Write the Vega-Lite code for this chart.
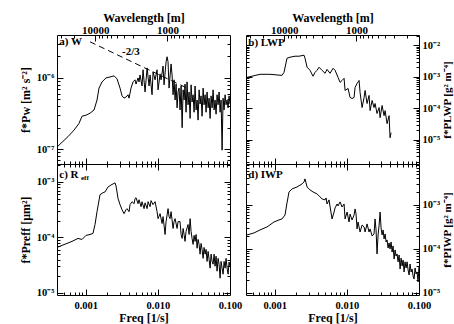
{
"$schema":"https://vega.github.io/schema/vega-lite/v6.json",
"background":"white",
"padding":{"left":18,"top":10,"right":0,"bottom":0},
"datasets":{
"a":[{"f":0.0004,"v":1.07e-7},{"f":0.000469,"v":1.25e-7},{"f":0.000568,"v":1.5e-7},{"f":0.000688,"v":1.85e-7},{"f":0.000807,"v":2.3e-7},{"f":0.000889,"v":2.9e-7},{"f":0.00101,"v":3.0e-7},{"f":0.001147,"v":3.2e-7},{"f":0.001304,"v":3.55e-7},{"f":0.001435,"v":4.9e-7},{"f":0.001529,"v":7.2e-7},{"f":0.001683,"v":8.8e-7},{"f":0.001912,"v":1.0e-6},{"f":0.002173,"v":1.03e-6},{"f":0.00247,"v":1.07e-6},{"f":0.002718,"v":9.7e-7},{"f":0.002991,"v":7.2e-7},{"f":0.003188,"v":5.6e-7},{"f":0.003398,"v":5.2e-7},{"f":0.003623,"v":5.4e-7},{"f":0.003862,"v":5.8e-7},{"f":0.003987,"v":5.2e-7},{"f":0.00425,"v":7.2e-7},{"f":0.00453,"v":8.8e-7},{"f":0.004828,"v":9.4e-7},{"f":0.004985,"v":8.2e-7},{"f":0.005314,"v":1.0e-6},{"f":0.005486,"v":8.8e-7},{"f":0.00566,"v":1.1e-6},{"f":0.006037,"v":7.7e-7},{"f":0.006232,"v":1.3e-6},{"f":0.00665,"v":6.35e-7},{"f":0.00709,"v":1.38e-6},{"f":0.00755,"v":7.7e-7},{"f":0.0078,"v":1.1e-6},{"f":0.00831,"v":5.8e-7},{"f":0.00858,"v":1.22e-6},{"f":0.00915,"v":9.4e-7},{"f":0.00975,"v":1.3e-6},{"f":0.01007,"v":6.8e-7},{"f":0.01073,"v":1.14e-6},{"f":0.01108,"v":9.4e-7},{"f":0.01181,"v":1.47e-6},{"f":0.01219,"v":8.0e-7},{"f":0.013,"v":1.68e-6},{"f":0.01342,"v":1.98e-6},{"f":0.01385,"v":1.68e-6},{"f":0.0143,"v":7.2e-7},{"f":0.01525,"v":1.57e-6},{"f":0.01574,"v":1.1e-6},{"f":0.01625,"v":5.8e-7},{"f":0.01678,"v":9.4e-7},{"f":0.01733,"v":4.9e-7},{"f":0.01789,"v":8.2e-7},{"f":0.01847,"v":3.8e-7},{"f":0.01906,"v":6.35e-7},{"f":0.01968,"v":7.2e-7},{"f":0.0203,"v":3.55e-7},{"f":0.021,"v":7.7e-7},{"f":0.0217,"v":2.0e-7},{"f":0.0224,"v":6.8e-7},{"f":0.0231,"v":4.9e-7},{"f":0.0238,"v":8.2e-7},{"f":0.0246,"v":3.3e-7},{"f":0.0254,"v":8.8e-7},{"f":0.0262,"v":4.2e-7},{"f":0.0271,"v":6.35e-7},{"f":0.028,"v":2.7e-7},{"f":0.0289,"v":8.0e-7},{"f":0.0298,"v":4.6e-7},{"f":0.0308,"v":5.8e-7},{"f":0.0318,"v":3.3e-7},{"f":0.0328,"v":7.7e-7},{"f":0.0339,"v":3.55e-7},{"f":0.035,"v":4.9e-7},{"f":0.0361,"v":2.56e-7},{"f":0.0373,"v":6.8e-7},{"f":0.0385,"v":4.3e-7},{"f":0.0397,"v":5.6e-7},{"f":0.041,"v":2.9e-7},{"f":0.0424,"v":7.2e-7},{"f":0.0437,"v":4.2e-7},{"f":0.0452,"v":5.8e-7},{"f":0.0466,"v":3.3e-7},{"f":0.0481,"v":6.35e-7},{"f":0.0497,"v":3.8e-7},{"f":0.0513,"v":5.2e-7},{"f":0.053,"v":2.7e-7},{"f":0.0547,"v":5.6e-7},{"f":0.0565,"v":3.8e-7},{"f":0.0583,"v":6.8e-7},{"f":0.0602,"v":3.55e-7},{"f":0.0621,"v":4.9e-7},{"f":0.0641,"v":3.1e-7},{"f":0.0662,"v":5.8e-7},{"f":0.0684,"v":4.2e-7},{"f":0.0706,"v":6.35e-7},{"f":0.0729,"v":3.3e-7},{"f":0.0752,"v":4.9e-7},{"f":0.0777,"v":9.7e-8},{"f":0.0802,"v":5.2e-7},{"f":0.0828,"v":3.55e-7},{"f":0.0855,"v":5.8e-7},{"f":0.0882,"v":4.2e-7},{"f":0.0911,"v":4.9e-7},{"f":0.0941,"v":3.8e-7},{"f":0.0971,"v":5.6e-7},{"f":0.1,"v":4.3e-7}],
"b":[{"f":0.000413,"v":9.5e-4},{"f":0.000625,"v":1.19e-3},{"f":0.000861,"v":1.19e-3},{"f":0.00126,"v":1.10e-3},{"f":0.001346,"v":1.37e-3},{"f":0.00148,"v":3.85e-3},{"f":0.00163,"v":4.14e-3},{"f":0.00191,"v":4.46e-3},{"f":0.00217,"v":4.46e-3},{"f":0.00255,"v":4.8e-3},{"f":0.00263,"v":3.85e-3},{"f":0.00281,"v":1.99e-3},{"f":0.00309,"v":1.59e-3},{"f":0.0034,"v":1.03e-3},{"f":0.00362,"v":1.37e-3},{"f":0.00386,"v":1.59e-3},{"f":0.00412,"v":1.99e-3},{"f":0.00453,"v":1.59e-3},{"f":0.00499,"v":1.28e-3},{"f":0.00531,"v":1.71e-3},{"f":0.00584,"v":1.28e-3},{"f":0.00645,"v":1.85e-3},{"f":0.00687,"v":1.59e-3},{"f":0.00755,"v":9.5e-4},{"f":0.00806,"v":6.6e-4},{"f":0.00858,"v":7.6e-4},{"f":0.00915,"v":8.85e-4},{"f":0.00945,"v":3.66e-4},{"f":0.0104,"v":4.24e-4},{"f":0.01108,"v":2.19e-4},{"f":0.01181,"v":2.03e-4},{"f":0.01259,"v":2.19e-4},{"f":0.013,"v":4.56e-4},{"f":0.01385,"v":6.1e-4},{"f":0.01477,"v":7.6e-4},{"f":0.01525,"v":3.16e-4},{"f":0.01625,"v":1.05e-4},{"f":0.01733,"v":2.19e-4},{"f":0.01789,"v":3.66e-4},{"f":0.01906,"v":1.41e-4},{"f":0.0203,"v":2.54e-4},{"f":0.021,"v":8.4e-5},{"f":0.0224,"v":1.76e-4},{"f":0.0238,"v":1.05e-4},{"f":0.0246,"v":1.41e-4},{"f":0.0262,"v":6.8e-5},{"f":0.028,"v":1.05e-4},{"f":0.0289,"v":5.0e-5},{"f":0.0308,"v":1.22e-4},{"f":0.0328,"v":5.8e-5},{"f":0.0339,"v":8.4e-5},{"f":0.0361,"v":3.24e-5},{"f":0.0385,"v":5.8e-5},{"f":0.0397,"v":1.16e-5},{"f":0.041,"v":1.67e-5}],
"c":[{"f":0.0004,"v":6.6e-5},{"f":0.000469,"v":7.2e-5},{"f":0.00055,"v":7.8e-5},{"f":0.000646,"v":8.5e-5},{"f":0.000782,"v":9.6e-5},{"f":0.000889,"v":9.2e-5},{"f":0.00101,"v":1.09e-4},{"f":0.001147,"v":1.13e-4},{"f":0.00126,"v":1.18e-4},{"f":0.001346,"v":1.71e-4},{"f":0.001435,"v":2.91e-4},{"f":0.001579,"v":5.9e-4},{"f":0.00174,"v":6.4e-4},{"f":0.001853,"v":6.6e-4},{"f":0.00204,"v":8.1e-4},{"f":0.002244,"v":8.8e-4},{"f":0.002393,"v":9.2e-4},{"f":0.002549,"v":9.6e-4},{"f":0.00263,"v":8.5e-4},{"f":0.00281,"v":5.0e-4},{"f":0.002991,"v":3.9e-4},{"f":0.003188,"v":3.16e-4},{"f":0.003398,"v":2.68e-4},{"f":0.003623,"v":3.16e-4},{"f":0.00374,"v":3.3e-4},{"f":0.003987,"v":2.91e-4},{"f":0.004115,"v":3.9e-4},{"f":0.00439,"v":4.4e-4},{"f":0.00468,"v":4.05e-4},{"f":0.004828,"v":5.0e-4},{"f":0.004985,"v":5.2e-4},{"f":0.005314,"v":4.05e-4},{"f":0.005486,"v":4.77e-4},{"f":0.00585,"v":3.58e-4},{"f":0.006037,"v":4.4e-4},{"f":0.00644,"v":3.3e-4},{"f":0.00665,"v":4.2e-4},{"f":0.00709,"v":3.3e-4},{"f":0.00732,"v":4.4e-4},{"f":0.0078,"v":3.58e-4},{"f":0.00805,"v":4.6e-4},{"f":0.00858,"v":3.9e-4},{"f":0.00915,"v":4.4e-4},{"f":0.00975,"v":2.91e-4},{"f":0.01007,"v":2.18e-4},{"f":0.01073,"v":2.68e-4},{"f":0.01144,"v":1.78e-4},{"f":0.01181,"v":2.37e-4},{"f":0.01259,"v":1.13e-4},{"f":0.013,"v":1.93e-4},{"f":0.01385,"v":3.3e-4},{"f":0.0143,"v":2.37e-4},{"f":0.01477,"v":2.18e-4},{"f":0.01525,"v":2.91e-4},{"f":0.01625,"v":1.45e-4},{"f":0.01678,"v":1.93e-4},{"f":0.01733,"v":2.18e-4},{"f":0.01847,"v":1.45e-4},{"f":0.01906,"v":1.93e-4},{"f":0.0203,"v":1.93e-4},{"f":0.021,"v":1.13e-4},{"f":0.0217,"v":9.6e-5},{"f":0.0224,"v":1.45e-4},{"f":0.0231,"v":1.13e-4},{"f":0.0238,"v":8.5e-5},{"f":0.0246,"v":1.28e-4},{"f":0.0262,"v":1.71e-4},{"f":0.0271,"v":1.13e-4},{"f":0.028,"v":2.18e-4},{"f":0.0289,"v":1.28e-4},{"f":0.0298,"v":9.6e-5},{"f":0.0308,"v":7.5e-5},{"f":0.0318,"v":1.09e-4},{"f":0.0328,"v":8.5e-5},{"f":0.0339,"v":1.13e-4},{"f":0.035,"v":6.4e-5},{"f":0.0361,"v":9.2e-5},{"f":0.0373,"v":7.5e-5},{"f":0.0385,"v":5.0e-5},{"f":0.0397,"v":7.8e-5},{"f":0.041,"v":6.1e-5},{"f":0.0424,"v":4.2e-5},{"f":0.0437,"v":6.6e-5},{"f":0.0452,"v":5.0e-5},{"f":0.0466,"v":6.1e-5},{"f":0.0481,"v":3.7e-5},{"f":0.0497,"v":5.6e-5},{"f":0.0513,"v":4.05e-5},{"f":0.053,"v":2.8e-5},{"f":0.0547,"v":5.0e-5},{"f":0.0565,"v":3.7e-5},{"f":0.0583,"v":3.3e-5},{"f":0.0602,"v":5.0e-5},{"f":0.0621,"v":3.03e-5},{"f":0.0641,"v":4.6e-5},{"f":0.0662,"v":2.47e-5},{"f":0.0684,"v":4.2e-5},{"f":0.0706,"v":3.3e-5},{"f":0.0729,"v":1.85e-5},{"f":0.0752,"v":3.7e-5},{"f":0.0777,"v":2.8e-5},{"f":0.0802,"v":2.18e-5},{"f":0.0828,"v":3.7e-5},{"f":0.0855,"v":2.8e-5},{"f":0.0882,"v":4.2e-5},{"f":0.0911,"v":2.8e-5},{"f":0.0941,"v":2.18e-5},{"f":0.0971,"v":3.6e-5},{"f":0.1,"v":3.03e-5}],
"d":[{"f":0.000413,"v":2.08e-4},{"f":0.000516,"v":2.31e-4},{"f":0.000625,"v":2.7e-4},{"f":0.000782,"v":3.16e-4},{"f":0.000978,"v":4.1e-4},{"f":0.001147,"v":4.56e-4},{"f":0.00126,"v":4.8e-4},{"f":0.00139,"v":5.9e-4},{"f":0.00148,"v":1.11e-3},{"f":0.001579,"v":1.97e-3},{"f":0.00174,"v":2.31e-3},{"f":0.00204,"v":2.56e-3},{"f":0.002393,"v":3.0e-3},{"f":0.002549,"v":3.33e-3},{"f":0.00263,"v":3.9e-3},{"f":0.00281,"v":2.56e-3},{"f":0.00309,"v":2.19e-3},{"f":0.0034,"v":1.97e-3},{"f":0.00386,"v":1.78e-3},{"f":0.00425,"v":1.52e-3},{"f":0.00453,"v":1.37e-3},{"f":0.004985,"v":1.30e-3},{"f":0.00515,"v":1.44e-3},{"f":0.005314,"v":1.05e-3},{"f":0.00566,"v":1.30e-3},{"f":0.006232,"v":4.8e-4},{"f":0.00665,"v":6.9e-4},{"f":0.00687,"v":8.55e-4},{"f":0.00732,"v":1.05e-3},{"f":0.00755,"v":9.5e-4},{"f":0.00805,"v":1.17e-3},{"f":0.00858,"v":9.0e-4},{"f":0.00915,"v":1.05e-3},{"f":0.00945,"v":4.8e-4},{"f":0.01007,"v":6.9e-4},{"f":0.01073,"v":4.1e-4},{"f":0.01108,"v":6.2e-4},{"f":0.01181,"v":4.56e-4},{"f":0.01259,"v":5.9e-4},{"f":0.013,"v":8.1e-4},{"f":0.01342,"v":6.2e-4},{"f":0.01385,"v":2.85e-4},{"f":0.0143,"v":4.1e-4},{"f":0.01525,"v":2.43e-4},{"f":0.01625,"v":3.5e-4},{"f":0.01733,"v":3.16e-4},{"f":0.01789,"v":2.43e-4},{"f":0.01906,"v":3.7e-4},{"f":0.0203,"v":2.43e-4},{"f":0.021,"v":2.85e-4},{"f":0.0224,"v":1.97e-4},{"f":0.0238,"v":2.19e-4},{"f":0.0246,"v":4.8e-4},{"f":0.0254,"v":2.7e-4},{"f":0.0262,"v":7.7e-5},{"f":0.0271,"v":2.08e-4},{"f":0.028,"v":3.5e-4},{"f":0.0289,"v":6.9e-4},{"f":0.0298,"v":3.0e-4},{"f":0.0308,"v":2.08e-4},{"f":0.0318,"v":2.7e-4},{"f":0.0328,"v":1.69e-4},{"f":0.0339,"v":2.19e-4},{"f":0.035,"v":1.44e-4},{"f":0.0361,"v":1.6e-4},{"f":0.0373,"v":1.05e-4},{"f":0.0385,"v":1.37e-4},{"f":0.0397,"v":1.0e-4},{"f":0.041,"v":1.44e-4},{"f":0.0424,"v":8.5e-5},{"f":0.0437,"v":1.17e-4},{"f":0.0452,"v":5.9e-5},{"f":0.0466,"v":9.5e-5},{"f":0.0481,"v":6.9e-5},{"f":0.0497,"v":7.7e-5},{"f":0.0513,"v":5.1e-5},{"f":0.053,"v":7.3e-5},{"f":0.0547,"v":3.5e-5},{"f":0.0565,"v":6.2e-5},{"f":0.0583,"v":4.1e-5},{"f":0.0602,"v":5.6e-5},{"f":0.0621,"v":3.0e-5},{"f":0.0641,"v":5.1e-5},{"f":0.0662,"v":3.7e-5},{"f":0.0684,"v":5.1e-5},{"f":0.0706,"v":3.33e-5},{"f":0.0729,"v":2.56e-5},{"f":0.0752,"v":4.56e-5},{"f":0.0777,"v":3.0e-5},{"f":0.0802,"v":3.5e-5},{"f":0.0828,"v":2.43e-5},{"f":0.0855,"v":2.08e-5},{"f":0.0882,"v":3.7e-5},{"f":0.0911,"v":2.7e-5},{"f":0.0941,"v":3.0e-5},{"f":0.0971,"v":1.78e-5},{"f":0.1,"v":4.1e-5}]
},
"columns":2,
"spacing":{"row":0,"column":16},
"bounds":"flush",
"concat":[
{"width":173,"height":129,"data":{"name":"a"},"resolve":{"axis":{"x":"independent","y":"independent"}},
"layer":[
{"mark":{"type":"line","color":"black","strokeWidth":1},
"encoding":{"x":{"field":"f","type":"quantitative","scale":{"type":"log","domain":[0.0004,0.1],"nice":false},"axis":{"orient":"bottom","values":[0.0005,0.0006,0.0007,0.0008,0.0009,0.001,0.002,0.003,0.004,0.005,0.006,0.007,0.008,0.009,0.01,0.02,0.03,0.04,0.05,0.06,0.07,0.08,0.09],"labels":false,"title":null,"tickSize":{"condition":{"test":"abs(log(datum.value)/LN10-round(log(datum.value)/LN10))<0.001","value":-6},"value":-3}}},
"y":{"field":"v","type":"quantitative","scale":{"type":"log","domain":[6.2e-8,4e-6],"nice":false},"axis":{"orient":"left","values":[7e-8,8e-8,9e-8,1e-7,2e-7,3e-7,4e-7,5e-7,6e-7,7e-7,8e-7,9e-7,1e-6,2e-6,3e-6],"labels":false,"title":null,"tickSize":{"condition":{"test":"abs(log(datum.value)/LN10-round(log(datum.value)/LN10))<0.001","value":-6},"value":-3}}}}},
{"mark":{"type":"line","strokeOpacity":0},
"encoding":{"x":{"field":"f","type":"quantitative","scale":{"type":"log","domain":[0.0004,0.1],"nice":false},"axis":{"orient":"top","values":[0.000453,0.00068,0.00136,0.001511,0.0017,0.001943,0.002267,0.00272,0.0034,0.004533,0.0068,0.0136,0.01511,0.017,0.01943,0.02267,0.0272,0.034,0.04533,0.068],"labels":false,"title":null,"tickSize":{"condition":{"test":"datum.value==0.00136||datum.value==0.0136","value":-6},"value":-3}}},
"y":{"field":"v","type":"quantitative","scale":{"type":"log","domain":[6.2e-8,4e-6],"nice":false},"axis":{"orient":"right","values":[7e-8,8e-8,9e-8,1e-7,2e-7,3e-7,4e-7,5e-7,6e-7,7e-7,8e-7,9e-7,1e-6,2e-6,3e-6],"labels":false,"title":null,"tickSize":{"condition":{"test":"abs(log(datum.value)/LN10-round(log(datum.value)/LN10))<0.001","value":-6},"value":-3}}}}},
{"mark":{"type":"line","strokeOpacity":0},
"encoding":{"x":{"field":"f","type":"quantitative","scale":{"type":"log","domain":[0.0004,0.1],"nice":false},"axis":{"orient":"top","values":[0.00136,0.0136],"ticks":false,"tickSize":0,"labelExpr":"datum.value<0.005?'10000':'1000'","title":"Wavelength [m]","labelPadding":0,"titlePadding":0,"labelFontSize":11}},
"y":{"field":"v","type":"quantitative","scale":{"type":"log","domain":[6.2e-8,4e-6],"nice":false},"axis":{"orient":"left","values":[1e-7,1e-6],"ticks":false,"tickSize":0,"labelPadding":3,"labelExpr":"'10⁻'+['⁰','¹','²','³','⁴','⁵','⁶','⁷','⁸','⁹'][round(-log(datum.value)/LN10)]","title":"f*Pw [m² s⁻²]","titlePadding":4}}}},
{"data":{"values":[{"f":0.001147,"v":3.21e-6},{"f":0.0254,"v":7.2e-7}]},"mark":{"type":"line","color":"black","strokeWidth":1,"strokeDash":[6,4]},
"encoding":{"x":{"field":"f","type":"quantitative","scale":{"type":"log","domain":[0.0004,0.1],"nice":false},"axis":null},"y":{"field":"v","type":"quantitative","scale":{"type":"log","domain":[6.2e-8,4e-6],"nice":false},"axis":null}}},
{"data":{"values":[{"f":0.00043,"v":3.21e-6,"t":"a) W"},{"f":0.00319,"v":2.32e-6,"t":"-2/3"}]},"mark":{"type":"text","align":"left","baseline":"middle","font":"Liberation Serif","fontWeight":"bold","fontSize":11,"color":"black"},
"encoding":{"x":{"field":"f","type":"quantitative","scale":{"type":"log","domain":[0.0004,0.1],"nice":false},"axis":null},"y":{"field":"v","type":"quantitative","scale":{"type":"log","domain":[6.2e-8,4e-6],"nice":false},"axis":null},"text":{"field":"t"}}}
]},
{"width":173,"height":129,"data":{"name":"b"},"resolve":{"axis":{"x":"independent","y":"independent"}},
"layer":[
{"mark":{"type":"line","color":"black","strokeWidth":1},
"encoding":{"x":{"field":"f","type":"quantitative","scale":{"type":"log","domain":[0.0004,0.1],"nice":false},"axis":{"orient":"bottom","values":[0.0005,0.0006,0.0007,0.0008,0.0009,0.001,0.002,0.003,0.004,0.005,0.006,0.007,0.008,0.009,0.01,0.02,0.03,0.04,0.05,0.06,0.07,0.08,0.09],"labels":false,"title":null,"tickSize":{"condition":{"test":"abs(log(datum.value)/LN10-round(log(datum.value)/LN10))<0.001","value":-6},"value":-3}}},
"y":{"field":"v","type":"quantitative","scale":{"type":"log","domain":[1.7e-6,0.021],"nice":false},"axis":{"orient":"left","values":[2e-6,3e-6,4e-6,5e-6,6e-6,7e-6,8e-6,9e-6,1e-5,2e-5,3e-5,4e-5,5e-5,6e-5,7e-5,8e-5,9e-5,1e-4,2e-4,3e-4,4e-4,5e-4,6e-4,7e-4,8e-4,9e-4,1e-3,2e-3,3e-3,4e-3,5e-3,6e-3,7e-3,8e-3,9e-3,1e-2,2e-2],"labels":false,"title":null,"tickSize":{"condition":{"test":"abs(log(datum.value)/LN10-round(log(datum.value)/LN10))<0.001","value":-6},"value":-3}}}}},
{"mark":{"type":"line","strokeOpacity":0},
"encoding":{"x":{"field":"f","type":"quantitative","scale":{"type":"log","domain":[0.0004,0.1],"nice":false},"axis":{"orient":"top","values":[0.000453,0.00068,0.00136,0.001511,0.0017,0.001943,0.002267,0.00272,0.0034,0.004533,0.0068,0.0136,0.01511,0.017,0.01943,0.02267,0.0272,0.034,0.04533,0.068],"labels":false,"title":null,"tickSize":{"condition":{"test":"datum.value==0.00136||datum.value==0.0136","value":-6},"value":-3}}},
"y":{"field":"v","type":"quantitative","scale":{"type":"log","domain":[1.7e-6,0.021],"nice":false},"axis":{"orient":"right","values":[2e-6,3e-6,4e-6,5e-6,6e-6,7e-6,8e-6,9e-6,1e-5,2e-5,3e-5,4e-5,5e-5,6e-5,7e-5,8e-5,9e-5,1e-4,2e-4,3e-4,4e-4,5e-4,6e-4,7e-4,8e-4,9e-4,1e-3,2e-3,3e-3,4e-3,5e-3,6e-3,7e-3,8e-3,9e-3,1e-2,2e-2],"labels":false,"title":null,"tickSize":{"condition":{"test":"abs(log(datum.value)/LN10-round(log(datum.value)/LN10))<0.001","value":-6},"value":-3}}}}},
{"mark":{"type":"line","strokeOpacity":0},
"encoding":{"x":{"field":"f","type":"quantitative","scale":{"type":"log","domain":[0.0004,0.1],"nice":false},"axis":{"orient":"top","values":[0.00136,0.0136],"ticks":false,"tickSize":0,"labelExpr":"datum.value<0.005?'10000':'1000'","title":"Wavelength [m]","labelPadding":0,"titlePadding":0,"labelFontSize":11}},
"y":{"field":"v","type":"quantitative","scale":{"type":"log","domain":[1.7e-6,0.021],"nice":false},"axis":{"orient":"right","values":[1e-5,1e-4,1e-3,1e-2],"ticks":false,"tickSize":0,"labelPadding":3,"labelExpr":"'10⁻'+['⁰','¹','²','³','⁴','⁵','⁶','⁷','⁸','⁹'][round(-log(datum.value)/LN10)]","title":"f*PLWP [g² m⁻⁴]","titleAngle":270,"titleBaseline":"top","titlePadding":2,"titleFontSize":11}}}},
{"data":{"values":[{"f":0.00043,"v":0.0116,"t":"b) LWP"}]},"mark":{"type":"text","align":"left","baseline":"middle","font":"Liberation Serif","fontWeight":"bold","fontSize":11,"color":"black"},
"encoding":{"x":{"field":"f","type":"quantitative","scale":{"type":"log","domain":[0.0004,0.1],"nice":false},"axis":null},"y":{"field":"v","type":"quantitative","scale":{"type":"log","domain":[1.7e-6,0.021],"nice":false},"axis":null},"text":{"field":"t"}}}
]},
{"width":173,"height":131,"data":{"name":"c"},"resolve":{"axis":{"x":"independent","y":"independent"}},
"layer":[
{"mark":{"type":"line","color":"black","strokeWidth":1},
"encoding":{"x":{"field":"f","type":"quantitative","scale":{"type":"log","domain":[0.0004,0.1],"nice":false},"axis":{"orient":"bottom","values":[0.0005,0.0006,0.0007,0.0008,0.0009,0.001,0.002,0.003,0.004,0.005,0.006,0.007,0.008,0.009,0.01,0.02,0.03,0.04,0.05,0.06,0.07,0.08,0.09],"labels":false,"title":null,"tickSize":{"condition":{"test":"abs(log(datum.value)/LN10-round(log(datum.value)/LN10))<0.001","value":-6},"value":-3}}},
"y":{"field":"v","type":"quantitative","scale":{"type":"log","domain":[9.2e-6,2.1e-3],"nice":false},"axis":{"orient":"left","values":[1e-5,2e-5,3e-5,4e-5,5e-5,6e-5,7e-5,8e-5,9e-5,1e-4,2e-4,3e-4,4e-4,5e-4,6e-4,7e-4,8e-4,9e-4,1e-3,2e-3],"labels":false,"title":null,"tickSize":{"condition":{"test":"abs(log(datum.value)/LN10-round(log(datum.value)/LN10))<0.001","value":-6},"value":-3}}}}},
{"mark":{"type":"line","strokeOpacity":0},
"encoding":{"x":{"field":"f","type":"quantitative","scale":{"type":"log","domain":[0.0004,0.1],"nice":false},"axis":{"orient":"top","values":[0.0005,0.0006,0.0007,0.0008,0.0009,0.001,0.002,0.003,0.004,0.005,0.006,0.007,0.008,0.009,0.01,0.02,0.03,0.04,0.05,0.06,0.07,0.08,0.09],"labels":false,"title":null,"tickSize":{"condition":{"test":"abs(log(datum.value)/LN10-round(log(datum.value)/LN10))<0.001","value":-6},"value":-3}}},
"y":{"field":"v","type":"quantitative","scale":{"type":"log","domain":[9.2e-6,2.1e-3],"nice":false},"axis":{"orient":"right","values":[1e-5,2e-5,3e-5,4e-5,5e-5,6e-5,7e-5,8e-5,9e-5,1e-4,2e-4,3e-4,4e-4,5e-4,6e-4,7e-4,8e-4,9e-4,1e-3,2e-3],"labels":false,"title":null,"tickSize":{"condition":{"test":"abs(log(datum.value)/LN10-round(log(datum.value)/LN10))<0.001","value":-6},"value":-3}}}}},
{"mark":{"type":"line","strokeOpacity":0},
"encoding":{"x":{"field":"f","type":"quantitative","scale":{"type":"log","domain":[0.0004,0.1],"nice":false},"axis":{"orient":"bottom","values":[0.001,0.01,0.1],"ticks":false,"tickSize":0,"format":".3f","title":"Freq [1/s]","labelPadding":5,"titlePadding":2}},
"y":{"field":"v","type":"quantitative","scale":{"type":"log","domain":[9.2e-6,2.1e-3],"nice":false},"axis":{"orient":"left","values":[1e-5,1e-4,1e-3],"ticks":false,"tickSize":0,"labelPadding":3,"labelExpr":"'10⁻'+['⁰','¹','²','³','⁴','⁵','⁶','⁷','⁸','⁹'][round(-log(datum.value)/LN10)]","title":"f*Preff [μm²]","titlePadding":4}}}},
{"data":{"values":[{"f":0.00043,"v":1.33e-3,"t":"c) R"}]},"mark":{"type":"text","align":"left","baseline":"middle","font":"Liberation Serif","fontWeight":"bold","fontSize":11,"color":"black"},
"encoding":{"x":{"field":"f","type":"quantitative","scale":{"type":"log","domain":[0.0004,0.1],"nice":false},"axis":null},"y":{"field":"v","type":"quantitative","scale":{"type":"log","domain":[9.2e-6,2.1e-3],"nice":false},"axis":null},"text":{"field":"t"}}},
{"data":{"values":[{"f":0.00086,"v":1.18e-3,"t":"eff"}]},"mark":{"type":"text","align":"left","baseline":"middle","font":"Liberation Serif","fontWeight":"bold","fontSize":7,"color":"black"},
"encoding":{"x":{"field":"f","type":"quantitative","scale":{"type":"log","domain":[0.0004,0.1],"nice":false},"axis":null},"y":{"field":"v","type":"quantitative","scale":{"type":"log","domain":[9.2e-6,2.1e-3],"nice":false},"axis":null},"text":{"field":"t"}}}
]},
{"width":173,"height":131,"data":{"name":"d"},"resolve":{"axis":{"x":"independent","y":"independent"}},
"layer":[
{"mark":{"type":"line","color":"black","strokeWidth":1},
"encoding":{"x":{"field":"f","type":"quantitative","scale":{"type":"log","domain":[0.0004,0.1],"nice":false},"axis":{"orient":"bottom","values":[0.0005,0.0006,0.0007,0.0008,0.0009,0.001,0.002,0.003,0.004,0.005,0.006,0.007,0.008,0.009,0.01,0.02,0.03,0.04,0.05,0.06,0.07,0.08,0.09],"labels":false,"title":null,"tickSize":{"condition":{"test":"abs(log(datum.value)/LN10-round(log(datum.value)/LN10))<0.001","value":-6},"value":-3}}},
"y":{"field":"v","type":"quantitative","scale":{"type":"log","domain":[9e-6,8.5e-3],"nice":false},"axis":{"orient":"left","values":[1e-5,2e-5,3e-5,4e-5,5e-5,6e-5,7e-5,8e-5,9e-5,1e-4,2e-4,3e-4,4e-4,5e-4,6e-4,7e-4,8e-4,9e-4,1e-3,2e-3,3e-3,4e-3,5e-3,6e-3,7e-3,8e-3],"labels":false,"title":null,"tickSize":{"condition":{"test":"abs(log(datum.value)/LN10-round(log(datum.value)/LN10))<0.001","value":-6},"value":-3}}}}},
{"mark":{"type":"line","strokeOpacity":0},
"encoding":{"x":{"field":"f","type":"quantitative","scale":{"type":"log","domain":[0.0004,0.1],"nice":false},"axis":{"orient":"top","values":[0.0005,0.0006,0.0007,0.0008,0.0009,0.001,0.002,0.003,0.004,0.005,0.006,0.007,0.008,0.009,0.01,0.02,0.03,0.04,0.05,0.06,0.07,0.08,0.09],"labels":false,"title":null,"tickSize":{"condition":{"test":"abs(log(datum.value)/LN10-round(log(datum.value)/LN10))<0.001","value":-6},"value":-3}}},
"y":{"field":"v","type":"quantitative","scale":{"type":"log","domain":[9e-6,8.5e-3],"nice":false},"axis":{"orient":"right","values":[1e-5,2e-5,3e-5,4e-5,5e-5,6e-5,7e-5,8e-5,9e-5,1e-4,2e-4,3e-4,4e-4,5e-4,6e-4,7e-4,8e-4,9e-4,1e-3,2e-3,3e-3,4e-3,5e-3,6e-3,7e-3,8e-3],"labels":false,"title":null,"tickSize":{"condition":{"test":"abs(log(datum.value)/LN10-round(log(datum.value)/LN10))<0.001","value":-6},"value":-3}}}}},
{"mark":{"type":"line","strokeOpacity":0},
"encoding":{"x":{"field":"f","type":"quantitative","scale":{"type":"log","domain":[0.0004,0.1],"nice":false},"axis":{"orient":"bottom","values":[0.001,0.01,0.1],"ticks":false,"tickSize":0,"format":".3f","title":"Freq [1/s]","labelPadding":5,"titlePadding":2}},
"y":{"field":"v","type":"quantitative","scale":{"type":"log","domain":[9e-6,8.5e-3],"nice":false},"axis":{"orient":"right","values":[1e-5,1e-4,1e-3],"ticks":false,"tickSize":0,"labelPadding":3,"labelExpr":"'10⁻'+['⁰','¹','²','³','⁴','⁵','⁶','⁷','⁸','⁹'][round(-log(datum.value)/LN10)]","title":"f*PIWP [g² m⁻⁴]","titleAngle":270,"titleBaseline":"top","titlePadding":2,"titleFontSize":11}}}},
{"data":{"values":[{"f":0.00043,"v":4.8e-3,"t":"d) IWP"}]},"mark":{"type":"text","align":"left","baseline":"middle","font":"Liberation Serif","fontWeight":"bold","fontSize":11,"color":"black"},
"encoding":{"x":{"field":"f","type":"quantitative","scale":{"type":"log","domain":[0.0004,0.1],"nice":false},"axis":null},"y":{"field":"v","type":"quantitative","scale":{"type":"log","domain":[9e-6,8.5e-3],"nice":false},"axis":null},"text":{"field":"t"}}}
]}
],
"config":{
"view":{"stroke":"black","strokeWidth":1},
"axis":{"domain":false,"grid":false,"labelFont":"Liberation Serif","labelFontWeight":"bold","labelFontSize":10.5,"labelColor":"black","titleFont":"Liberation Serif","titleFontWeight":"bold","titleFontSize":12,"titleColor":"black","tickColor":"black","labelOverlap":false,"labelFlush":false,"labelBound":false}
}
}
